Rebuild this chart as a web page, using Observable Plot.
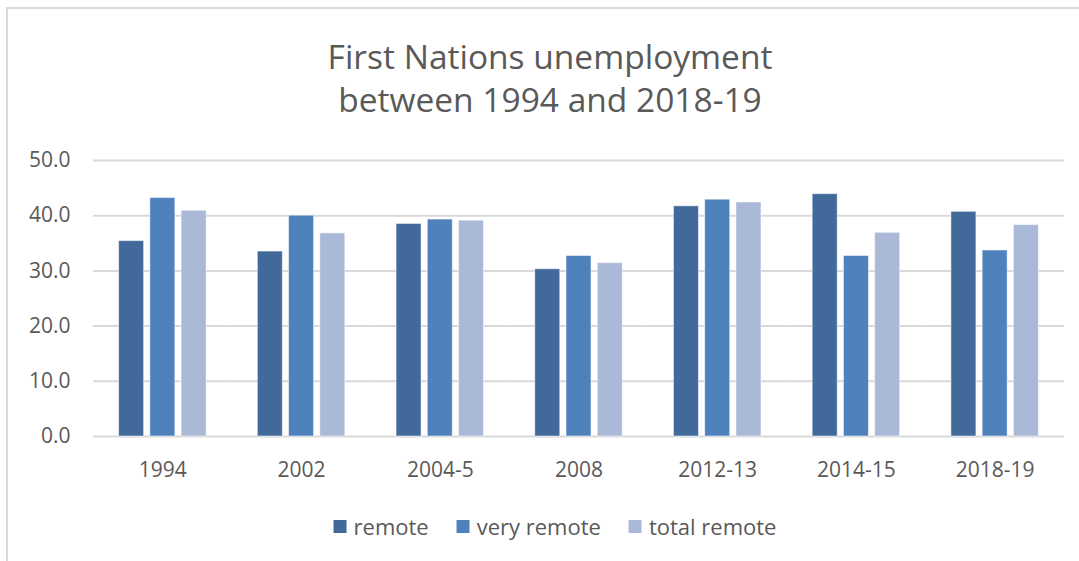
<!DOCTYPE html>
<html>
<head>
<meta charset="utf-8">
<script src="https://cdn.jsdelivr.net/npm/d3@7"></script>
<script src="https://cdn.jsdelivr.net/npm/@observablehq/plot@0.6"></script>
<style>
  html, body { margin: 0; padding: 0; background: #fff; }
  #wrap { position: relative; width: 1079px; height: 561px; overflow: hidden; background: #fff; font-family: "Open Sans", sans-serif; color: #595959; }
  #frame { position: absolute; left: 6px; top: 7px; width: 1100px; height: 600px; border-left: 2px solid #D9D9D9; border-top: 2px solid #D9D9D9; box-sizing: border-box; }
  #title { position: absolute; left: 550px; top: 35px; transform: translateX(-50%); text-align: center; font-size: 33.5px; line-height: 43px; white-space: nowrap; color: #595959; }
  #chart { position: absolute; left: 0; top: 0; }
  #legend { position: absolute; left: 555px; top: 511px; transform: translateX(-50%); display: flex; align-items: center; white-space: nowrap; font-size: 22px; color: #595959; }
  #legend .item { display: flex; align-items: center; margin: 0 14px; }
  #legend .sw { width: 13px; height: 13px; margin-right: 7px; }
</style>
</head>
<body>
<div id="wrap">
  <div id="frame"></div>
  <div id="title">First Nations unemployment<br>between 1994 and 2018-19</div>
  <div id="chart"></div>
  <div id="legend"></div>
</div>
<script>
const categories = ["1994", "2002", "2004-5", "2008", "2012-13", "2014-15", "2018-19"];
const seriesNames = ["remote", "very remote", "total remote"];
const remote = [35.4, 33.5, 38.5, 30.3, 41.7, 43.9, 40.7];
const veryRemote = [43.2, 40.0, 39.3, 32.7, 42.9, 32.7, 33.7];
const totalRemote = [40.9, 36.8, 39.1, 31.4, 42.4, 36.9, 38.3];
const yTicks = [0, 10, 20, 30, 40, 50];
const colors = ["#416A9B", "#4F81BD", "#AAB9D7"];

const seriesValues = [remote, veryRemote, totalRemote];
const data = [];
categories.forEach((c, i) => {
  seriesNames.forEach((s, j) => {
    data.push({category: c, series: s, value: seriesValues[j][i]});
  });
});

const chart = Plot.plot({
  width: 1079,
  height: 561,
  marginTop: 160,
  marginBottom: 125,
  marginLeft: 93,
  marginRight: 15,
  style: {fontFamily: "'Open Sans', sans-serif", fontSize: "21px", color: "#595959", background: "transparent"},
  fx: {domain: categories, padding: 0, round: false, label: null, axis: null},
  x: {domain: seriesNames, paddingInner: 0.2, paddingOuter: 0.82, round: false, axis: null},
  y: {domain: [0, 50], ticks: yTicks, label: null, axis: null},
  color: {domain: seriesNames, range: colors},
  marks: [
    Plot.ruleY(yTicks, {stroke: "#D9D9D9", strokeWidth: 2}),
    Plot.barY(data, {fx: "category", x: "series", y: "value", fill: "series", stroke: "#ffffff", strokeWidth: 1, strokeOpacity: 0.5}),
    Plot.axisY(yTicks, {tickSize: 0, tickPadding: 23, tickFormat: d => d.toFixed(1), fill: "#595959", fontSize: 21}),
    Plot.axisFx({anchor: "bottom", tickSize: 0, tickPadding: 26, label: null, fill: "#595959", fontSize: 21})
  ]
});
document.getElementById("chart").appendChild(chart);

const legend = document.getElementById("legend");
seriesNames.forEach((s, j) => {
  const item = document.createElement("div");
  item.className = "item";
  const sw = document.createElement("span");
  sw.className = "sw";
  sw.style.background = colors[j];
  const t = document.createElement("span");
  t.textContent = s;
  item.appendChild(sw);
  item.appendChild(t);
  legend.appendChild(item);
});
</script>
</body>
</html>
